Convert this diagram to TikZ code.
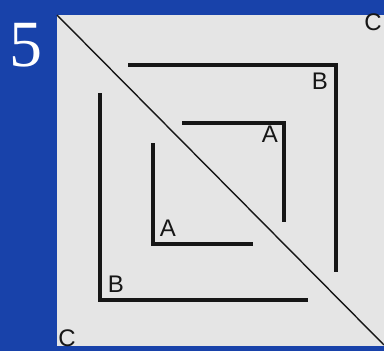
\documentclass[tikz,border=0pt]{standalone}
\usepackage{fontspec}
\setmainfont{Liberation Sans}
\newfontfamily\numfont{Liberation Serif}
\definecolor{bgblue}{RGB}{24,66,170}
\definecolor{paper}{RGB}{229,229,229}
\definecolor{ink}{RGB}{22,22,22}
\begin{document}
\begin{tikzpicture}[x=1pt,y=-1pt,
  bar/.style={draw=ink,line width=4.3pt,line cap=butt,line join=miter},
  lbl/.style={text=ink,font=\fontsize{24}{24}\selectfont,inner sep=0pt}]
\useasboundingbox (0,0) rectangle (384,351);
\fill[bgblue] (0,0) rectangle (384,351);
\fill[paper] (57,15) rectangle (384,346);
\coordinate (d1) at (57,15);
\coordinate (d2) at (384,345);
\draw[ink,line width=1.4pt] (d1) -- (d2);
\node[text=white,font=\numfont\fontsize{66}{66}\selectfont,inner sep=0pt] (five) at (26,45) {5};
% outer B brackets
\coordinate (b1) at (100,93);
\coordinate (b2) at (100,300);
\coordinate (b3) at (308,300);
\draw[bar] (b1) -- (b2) -- (b3);
\coordinate (b4) at (128,65);
\coordinate (b5) at (336,65);
\coordinate (b6) at (336,272);
\draw[bar] (b4) -- (b5) -- (b6);
% inner A brackets
\coordinate (a1) at (153,143);
\coordinate (a2) at (153,244);
\coordinate (a3) at (253,244);
\draw[bar] (a1) -- (a2) -- (a3);
\coordinate (a4) at (182,123);
\coordinate (a5) at (284,123);
\coordinate (a6) at (284,222);
\draw[bar] (a4) -- (a5) -- (a6);
% labels
\node[lbl] (lB1) at (320,81) {B};
\node[lbl] (lB2) at (116,284) {B};
\node[lbl] (lA1) at (270,134) {A};
\node[lbl] (lA2) at (168,228) {A};
\node[lbl] (lC1) at (373,22) {C};
\node[lbl] (lC2) at (67,338) {C};
\end{tikzpicture}
\end{document}
